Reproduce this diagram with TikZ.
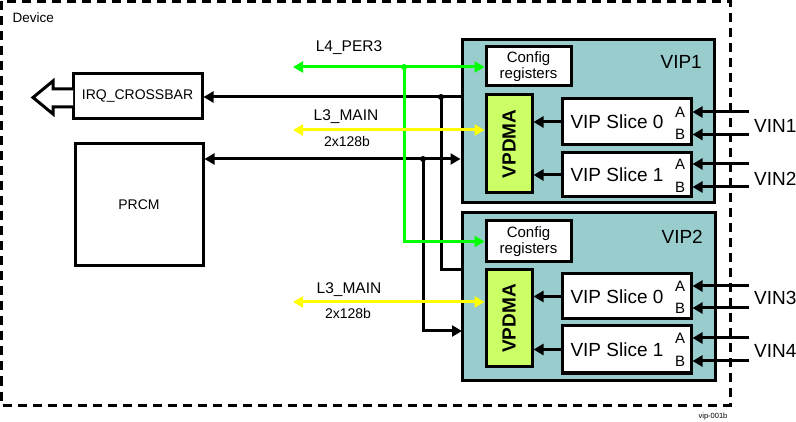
\documentclass[tikz,border=0pt]{standalone}
\usepackage{fontspec}
\setmainfont{Liberation Sans}
\usetikzlibrary{arrows.meta,calc}
\definecolor{vipteal}{HTML}{99CCCC}
\definecolor{vpdmagreen}{HTML}{CCFF66}
\definecolor{busgreen}{HTML}{00FF00}
\definecolor{busyellow}{HTML}{FFFF00}
\tikzset{
  box/.style={draw=black, line width=3pt, fill=white, inner sep=0pt, font=\fontsize{14}{16}\selectfont},
  vipbox/.style={draw=black, line width=3pt, fill=vipteal, inner sep=0pt},
  dmabox/.style={draw=black, line width=3pt, fill=vpdmagreen, inner sep=0pt},
  slicebox/.style={draw=black, line width=3pt, fill=white, inner sep=0pt, minimum width=129pt},
  tip/.style={-{Triangle[length=10pt,width=11pt]}},
  bothtip/.style={{Triangle[length=10pt,width=11pt]}-{Triangle[length=10pt,width=11pt]}},
  wire/.style={line width=3pt, draw=black},
  gwire/.style={line width=3pt, draw=busgreen},
  ywire/.style={line width=3pt, draw=busyellow},
  lbl/.style={inner sep=0pt, font=\fontsize{15.5}{17}\selectfont},
  small/.style={inner sep=0pt, font=\fontsize{14}{15}\selectfont},
  big/.style={inner sep=0pt, font=\fontsize{19}{21}\selectfont},
  ab/.style={inner sep=0pt, font=\fontsize{15}{17}\selectfont},
  dot/.style={circle, fill=#1, inner sep=0pt, minimum size=6pt},
}
\begin{document}
\begin{tikzpicture}[x=1pt,y=-1pt]
\useasboundingbox (0,0) rectangle (796,422);
\fill[white] (0,0) rectangle (796,422);
% device border
\draw[line width=3pt, dash pattern=on 9pt off 6pt] (1.5,1.5) rectangle (730,405);
\node[inner sep=0pt, anchor=west, font=\fontsize{13.5}{15}\selectfont] (device) at (12.5,18) {Device};

% left blocks
\node[box, minimum width=129pt, minimum height=45pt] (irq) at (137.5,96.5) {IRQ\_CROSSBAR};
\node[box, minimum width=128pt, minimum height=122pt] (prcm) at (139,205) {PRCM};
\draw[line width=3pt, fill=white, line join=miter]
  (73,89) -- (53,89) -- (53,81) -- (33,97.5) -- (53,114) -- (53,107) -- (73,107);

% VIP1
\node[vipbox, minimum width=252pt, minimum height=163pt] (vip1) at (588,121.5) {};
\node[big, anchor=east] (vip1t) at (702,62) {VIP1};
\node[box, minimum width=85pt, minimum height=39pt, align=center, font=\fontsize{15}{15.5}\selectfont] (cfg1) at (528.5,66.5) {Config\\registers};
\node[dmabox, minimum width=46pt, minimum height=98pt] (dma1) at (509,144) {};
\node[rotate=90, inner sep=0pt, font=\fontsize{19}{21}\selectfont\bfseries] (dma1t) at (dma1) {VPDMA};
\node[slicebox, minimum height=46pt] (s10) at (626.5,122) {};
\node[slicebox, minimum height=44pt] (s11) at (626.5,175) {};
\node[big] (s10t) at (617,122) {VIP Slice 0};
\node[big] (s11t) at (617,175) {VIP Slice 1};
\node[ab] (s10a) at (680,112) {A};
\node[ab] (s10b) at (680,134.5) {B};
\node[ab] (s11a) at (680,164) {A};
\node[ab] (s11b) at (680,187) {B};

% VIP2
\node[vipbox, minimum width=253pt, minimum height=167pt] (vip2) at (588.5,296.5) {};
\node[big, anchor=east] (vip2t) at (703,237) {VIP2};
\node[box, minimum width=85pt, minimum height=41pt, align=center, font=\fontsize{15}{15.5}\selectfont] (cfg2) at (528.5,241.5) {Config\\registers};
\node[dmabox, minimum width=46pt, minimum height=97pt] (dma2) at (509,318.5) {};
\node[rotate=90, inner sep=0pt, font=\fontsize{19}{21}\selectfont\bfseries] (dma2t) at (dma2) {VPDMA};
\node[slicebox, minimum height=45pt] (s20) at (626.5,296.5) {};
\node[slicebox, minimum height=47pt] (s21) at (626.5,349.5) {};
\node[big] (s20t) at (617,296.5) {VIP Slice 0};
\node[big] (s21t) at (617,349.5) {VIP Slice 1};
\node[ab] (s20a) at (680,286) {A};
\node[ab] (s20b) at (680,308) {B};
\node[ab] (s21a) at (680,338) {A};
\node[ab] (s21b) at (680,361) {B};

% coordinates
\coordinate (l4end) at (293,67);
\coordinate (j1) at (404,67);
\coordinate (j2) at (441,97);
\coordinate (j3) at (423,159);
\coordinate (l3a) at (293,130);
\coordinate (l3b) at (293,302);
\coordinate (in10a) at (749,112);
\coordinate (in10b) at (749,134.5);
\coordinate (in11a) at (749,164);
\coordinate (in11b) at (749,187);
\coordinate (in20a) at (749,286);
\coordinate (in20b) at (749,308);
\coordinate (in21a) at (749,338);
\coordinate (in21b) at (749,361);
\coordinate (v2irq) at (462,270);
\coordinate (v2prcm) at (462,331);

% black wires
\draw[wire, tip] (vip1.west |- j2) -- (irq.east |- j2);
\draw[wire] (j2) |- (v2irq);
\draw[wire, bothtip] (prcm.east |- j3) -- (vip1.west |- j3);
\draw[wire, tip] (j3) |- (v2prcm);
\node[dot=black] (d2) at (j2) {};
\node[dot=black] (d3) at (j3) {};

% green bus
\draw[gwire, bothtip] (l4end) -- (cfg1.west |- l4end);
\draw[gwire, tip] (j1) |- (cfg2.west);
\node[dot=busgreen] (d1) at (j1) {};
\node[lbl] (l4t) at (349,48) {L4\_PER3};

% yellow buses
\draw[ywire, bothtip] (l3a) -- (dma1.west |- l3a);
\draw[ywire, bothtip] (l3b) -- (dma2.west |- l3b);
\node[lbl] (l3at) at (346,117) {L3\_MAIN};
\node[small] (l3aw) at (347,141) {2x128b};
\node[lbl] (l3bt) at (349,290) {L3\_MAIN};
\node[small] (l3bw) at (348,313) {2x128b};

% slice to VPDMA
\draw[wire, tip] (s10.west) -- (dma1.east |- s10.west);
\draw[wire, tip] (s11.west) -- (dma1.east |- s11.west);
\draw[wire, tip] (s20.west) -- (dma2.east |- s20.west);
\draw[wire, tip] (s21.west) -- (dma2.east |- s21.west);

% inputs
\draw[wire, tip] (in10a) -- (s10.east |- in10a);
\draw[wire, tip] (in10b) -- (s10.east |- in10b);
\draw[wire, tip] (in11a) -- (s11.east |- in11a);
\draw[wire, tip] (in11b) -- (s11.east |- in11b);
\draw[wire, tip] (in20a) -- (s20.east |- in20a);
\draw[wire, tip] (in20b) -- (s20.east |- in20b);
\draw[wire, tip] (in21a) -- (s21.east |- in21a);
\draw[wire, tip] (in21b) -- (s21.east |- in21b);
\node[big, anchor=west] (vin1) at (754,126) {VIN1};
\node[big, anchor=west] (vin2) at (754,179) {VIN2};
\node[big, anchor=west] (vin3) at (754,298) {VIN3};
\node[big, anchor=west] (vin4) at (754,351) {VIN4};

\node[inner sep=0pt, font=\fontsize{7.5}{8}\selectfont] (ref) at (713,417) {vip-001b};
\end{tikzpicture}
\end{document}
